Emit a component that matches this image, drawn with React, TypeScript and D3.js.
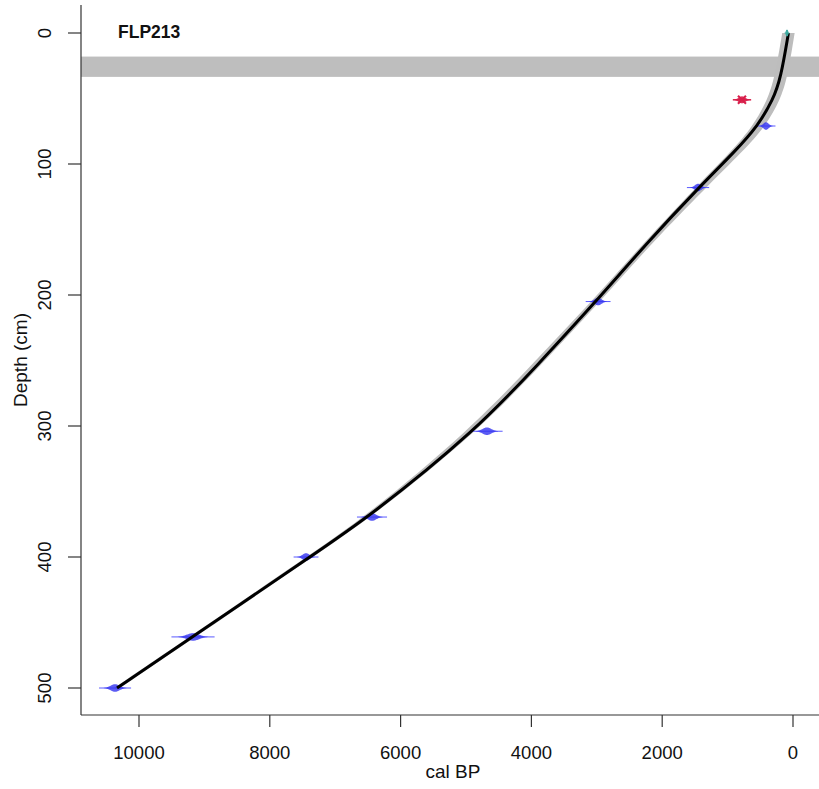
import React from "react";
import * as d3 from "d3";

// Age-depth model (best fit) and its grey confidence envelope
const modelDepths = [0, 34, 51, 71, 90, 118, 160, 206, 252, 303, 369, 400, 461, 500];
const modelAges = [70, 185, 305, 540, 880, 1440, 2230, 3030, 3880, 4840, 6470, 7390, 9180, 10336];
const modelMinAges = [-25, 85, 195, 420, 760, 1330, 2155, 2965, 3830, 4795, 6425, 7345, 9135, 10290];
const modelMaxAges = [165, 280, 390, 610, 935, 1490, 2280, 3095, 3975, 4940, 6530, 7440, 9225, 10382];

// Calibrated dates
const dateDepths = [71, 118, 205, 304, 369.5, 400, 461, 500];
const dateAges = [413, 1452, 2980, 4680, 6437, 7446, 9174, 10366];
const dateErrors = [145, 170, 190, 240, 230, 190, 330, 245];

// Surface date & outlier
const surfaceDepth = 0;
const surfaceAge = 92;
const outlierDepth = 51;
const outlierAge = 780;
const outlierError = 140;

// Slump / excluded section
const slumpTop = 18;
const slumpBottom = 33.5;

const xTicks = [10000, 8000, 6000, 4000, 2000, 0];
const yTicks = [0, 100, 200, 300, 400, 500];

const coreName = "FLP213";
const xLabel = "cal BP";
const yLabel = "Depth (cm)";

export default function App() {
  const W = 819;
  const H = 789;
  const x = d3.scaleLinear().domain([0, 10000]).range([793, 139]);
  const y = d3.scaleLinear().domain([0, 500]).range([33, 688]);
  const left = 81;
  const bottom = 715;
  const top = 5;
  const right = 825;

  const idx = modelDepths.map((_, i) => i);
  const area = d3
    .area<number>()
    .y((i) => y(modelDepths[i]))
    .x0((i) => x(modelMinAges[i]))
    .x1((i) => x(modelMaxAges[i]))
    .curve(d3.curveBasis);
  const line = d3
    .line<number>()
    .x((i) => x(modelAges[i]))
    .y((i) => y(modelDepths[i]))
    .curve(d3.curveBasis);

  const blob = (age: number, err: number, depth: number, h: number) => {
    const sd = err / 2.5;
    const zs = d3.range(-2.5, 2.501, 0.1);
    const a = d3
      .area<number>()
      .x((z) => x(age + z * sd))
      .y0((z) => y(depth) - h * Math.exp(-0.5 * z * z))
      .y1((z) => y(depth) + h * Math.exp(-0.5 * z * z));
    return a(zs) || "";
  };

  const font = "'Liberation Sans', Arial, Helvetica, sans-serif";

  return (
    <svg width={W} height={H} style={{ display: "block", position: "absolute", left: 0, top: 0 }}>
      <rect width={W} height={H} fill="#fff" />
      {/* slump band */}
      <rect
        x={left}
        y={y(slumpTop)}
        width={W - left}
        height={y(slumpBottom) - y(slumpTop)}
        fill="#bebebe"
      />
      {/* envelope */}
      <path d={area(idx) || ""} fill="#bdbdbd" />
      {/* dates */}
      {dateDepths.map((d, i) => (
        <g key={i}>
          <line
            x1={x(dateAges[i] - dateErrors[i])}
            x2={x(dateAges[i] + dateErrors[i])}
            y1={y(d)}
            y2={y(d)}
            stroke="#5a5aff"
            strokeWidth={1}
          />
          <path d={blob(dateAges[i], dateErrors[i] * 0.7, d, 3.8)} fill="rgba(50,50,240,0.8)" />
        </g>
      ))}
      {/* best fit line */}
      <path d={line(idx) || ""} fill="none" stroke="#000" strokeWidth={3} />
      {/* surface */}
      <path d={blob(surfaceAge, 40, surfaceDepth, 3.5)} fill="rgba(60,170,160,0.85)" />
      <line
        x1={x(surfaceAge)}
        x2={x(surfaceAge)}
        y1={y(surfaceDepth) - 3}
        y2={y(surfaceDepth) + 3}
        stroke="rgba(60,170,160,0.85)"
        strokeWidth={2}
      />
      {/* outlier */}
      <g>
        <line
          x1={x(outlierAge - outlierError)}
          x2={x(outlierAge + outlierError)}
          y1={y(outlierDepth)}
          y2={y(outlierDepth)}
          stroke="#d81e4a"
          strokeWidth={1.5}
        />
        <path d={blob(outlierAge, outlierError * 0.9, outlierDepth, 3.5)} fill="rgba(216,30,74,0.9)" />
        <line
          x1={x(outlierAge) - 4}
          x2={x(outlierAge) + 4}
          y1={y(outlierDepth) - 4}
          y2={y(outlierDepth) + 4}
          stroke="#d81e4a"
          strokeWidth={2}
        />
        <line
          x1={x(outlierAge) - 4}
          x2={x(outlierAge) + 4}
          y1={y(outlierDepth) + 4}
          y2={y(outlierDepth) - 4}
          stroke="#d81e4a"
          strokeWidth={2}
        />
      </g>
      {/* axes */}
      <line x1={left} x2={left} y1={top} y2={bottom} stroke="#333" strokeWidth={1.2} />
      <line x1={left} x2={right} y1={bottom} y2={bottom} stroke="#333" strokeWidth={1.2} />
      {xTicks.map((t) => (
        <g key={"x" + t}>
          <line x1={x(t)} x2={x(t)} y1={bottom} y2={bottom + 12} stroke="#333" strokeWidth={1.2} />
          <text x={x(t)} y={759} textAnchor="middle" fontFamily={font} fontSize={18.5} fill="#111">
            {t}
          </text>
        </g>
      ))}
      {yTicks.map((t) => (
        <g key={"y" + t}>
          <line x1={left - 13} x2={left} y1={y(t)} y2={y(t)} stroke="#333" strokeWidth={1.2} />
          <text
            transform={`translate(${51},${y(t)}) rotate(-90)`}
            textAnchor="middle"
            fontFamily={font}
            fontSize={18.5}
            fill="#111"
          >
            {t}
          </text>
        </g>
      ))}
      <text x={453} y={778} textAnchor="middle" fontFamily={font} fontSize={19} fill="#111">
        {xLabel}
      </text>
      <text
        transform={`translate(${27},${360}) rotate(-90)`}
        textAnchor="middle"
        fontFamily={font}
        fontSize={19}
        fill="#111"
      >
        {yLabel}
      </text>
      <text x={118} y={38} fontFamily={font} fontSize={17.5} fontWeight="bold" fill="#111">
        {coreName}
      </text>
    </svg>
  );
}
